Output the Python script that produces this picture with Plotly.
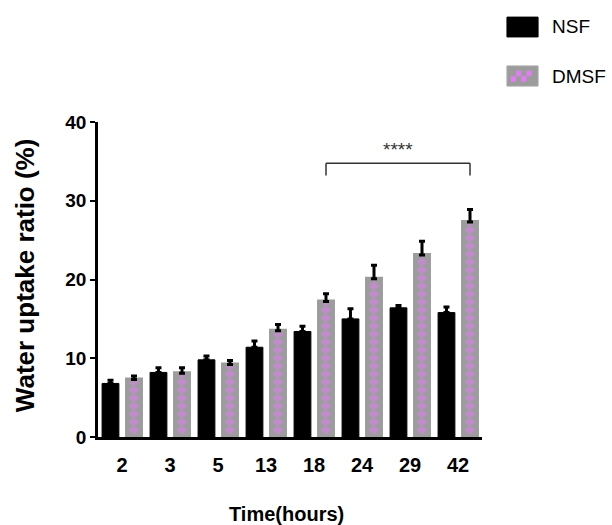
import plotly.graph_objects as go

categories = ["2", "3", "5", "13", "18", "24", "29", "42"]
nsf_values = [6.8, 8.2, 9.8, 11.4, 13.4, 15.0, 16.4, 15.8]
nsf_errors = [0.4, 0.6, 0.5, 0.8, 0.65, 1.3, 0.3, 0.7]
dmsf_values = [7.3, 8.1, 9.2, 13.5, 17.2, 20.1, 23.1, 27.3]
dmsf_errors = [0.45, 0.7, 0.5, 0.8, 1.0, 1.7, 1.75, 1.6]
sig_label = "****"
sig_y = 34.75
sig_drop = 33.2

FONT = "Arial, Liberation Sans, sans-serif"
PINK = "#e27ef4"
GRAY = "#9c9c9c"

fig = go.Figure()
fig.add_trace(go.Bar(
    x=categories, y=nsf_values, name="NSF",
    width=0.35, offset=-0.415,
    marker=dict(color="black", line=dict(color="black", width=1)),
    error_y=dict(type="data", array=nsf_errors, arrayminus=[0] * len(nsf_errors),
                 symmetric=False, color="black", thickness=3, width=3),
    showlegend=False,
))
fig.add_trace(go.Bar(
    x=categories, y=dmsf_values, name="DMSF",
    width=0.29, offset=0.105,
    marker=dict(color=GRAY, line=dict(color=GRAY, width=4),
                pattern=dict(shape=".", fgcolor=PINK, bgcolor=GRAY,
                             size=8, solidity=0.7)),
    error_y=dict(type="data", array=dmsf_errors, arrayminus=[0] * len(dmsf_errors),
                 symmetric=False, color="black", thickness=3, width=3),
    showlegend=False,
))

# significance bracket between DMSF at 18 h and 42 h
i0 = categories.index("18") + 0.25
i1 = categories.index("42") + 0.25
for (xa, ya, xb, yb) in [(i0, sig_drop, i0, sig_y), (i0, sig_y, i1, sig_y), (i1, sig_y, i1, sig_drop)]:
    fig.add_shape(type="line", xref="x", yref="y", x0=xa, y0=ya, x1=xb, y1=yb,
                  line=dict(color="#333333", width=1.5))
fig.add_annotation(x=(i0 + i1) / 2, y=sig_y + 1.8, xref="x", yref="y", text=sig_label,
                   showarrow=False, font=dict(size=19, color="#333333", family=FONT))

# legend drawn manually (top right)
fig.add_shape(type="rect", xref="paper", yref="paper", x0=1.065, x1=1.146, y0=1.270, y1=1.333,
              fillcolor="black", line=dict(color="black", width=1))
fig.add_shape(type="rect", xref="paper", yref="paper", x0=1.065, x1=1.146, y0=1.114, y1=1.178,
              fillcolor=GRAY, line=dict(color="#a8a8a8", width=1))
cw = 0.0135
ch = 0.0175
for r in range(2):
    for c in range(4):
        if (r + c) % 2 == 0:
            x0 = 1.075 + c * cw
            y0 = 1.128 + r * ch
            fig.add_shape(type="rect", xref="paper", yref="paper", x0=x0, x1=x0 + cw,
                          y0=y0, y1=y0 + ch, fillcolor=PINK, line=dict(width=0))
fig.add_annotation(x=1.178, y=1.302, xref="paper", yref="paper", text="NSF", showarrow=False,
                   xanchor="left", yanchor="middle", font=dict(size=19, color="black", family=FONT))
fig.add_annotation(x=1.178, y=1.146, xref="paper", yref="paper", text="DMSF", showarrow=False,
                   xanchor="left", yanchor="middle", font=dict(size=19, color="black", family=FONT))

# axis titles
fig.add_annotation(x=0.492, y=-0.245, xref="paper", yref="paper", text="<b>Time(hours)</b>",
                   showarrow=False, xanchor="center", yanchor="middle",
                   font=dict(size=20, color="black", family=FONT))
fig.add_annotation(x=-0.19, y=0.514, xref="paper", yref="paper", text="<b>Water uptake ratio (%)</b>",
                   showarrow=False, textangle=-90, xanchor="center", yanchor="middle",
                   font=dict(size=26, color="black", family=FONT))

fig.update_layout(
    width=612, height=525,
    margin=dict(l=98, r=130, t=122, b=88),
    paper_bgcolor="white", plot_bgcolor="white",
    barmode="group",
    xaxis=dict(type="category", range=[-0.5, 7.5], showgrid=False, zeroline=False,
               showline=True, linecolor="black", linewidth=2.5, ticks="",
               ticklabelstandoff=8,
               tickfont=dict(size=20, color="black", family=FONT, weight="bold")),
    yaxis=dict(range=[0, 40], tickvals=[0, 10, 20, 30, 40], showgrid=False, zeroline=False,
               showline=True, linecolor="black", linewidth=2.5, ticks="outside",
               ticklen=5, tickwidth=2, tickcolor="black",
               tickfont=dict(size=19, color="black", family=FONT, weight="bold")),
)

fig.write_html("out.html", config={"displayModeBar": False},
               post_script="document.body.style.margin='0';")
